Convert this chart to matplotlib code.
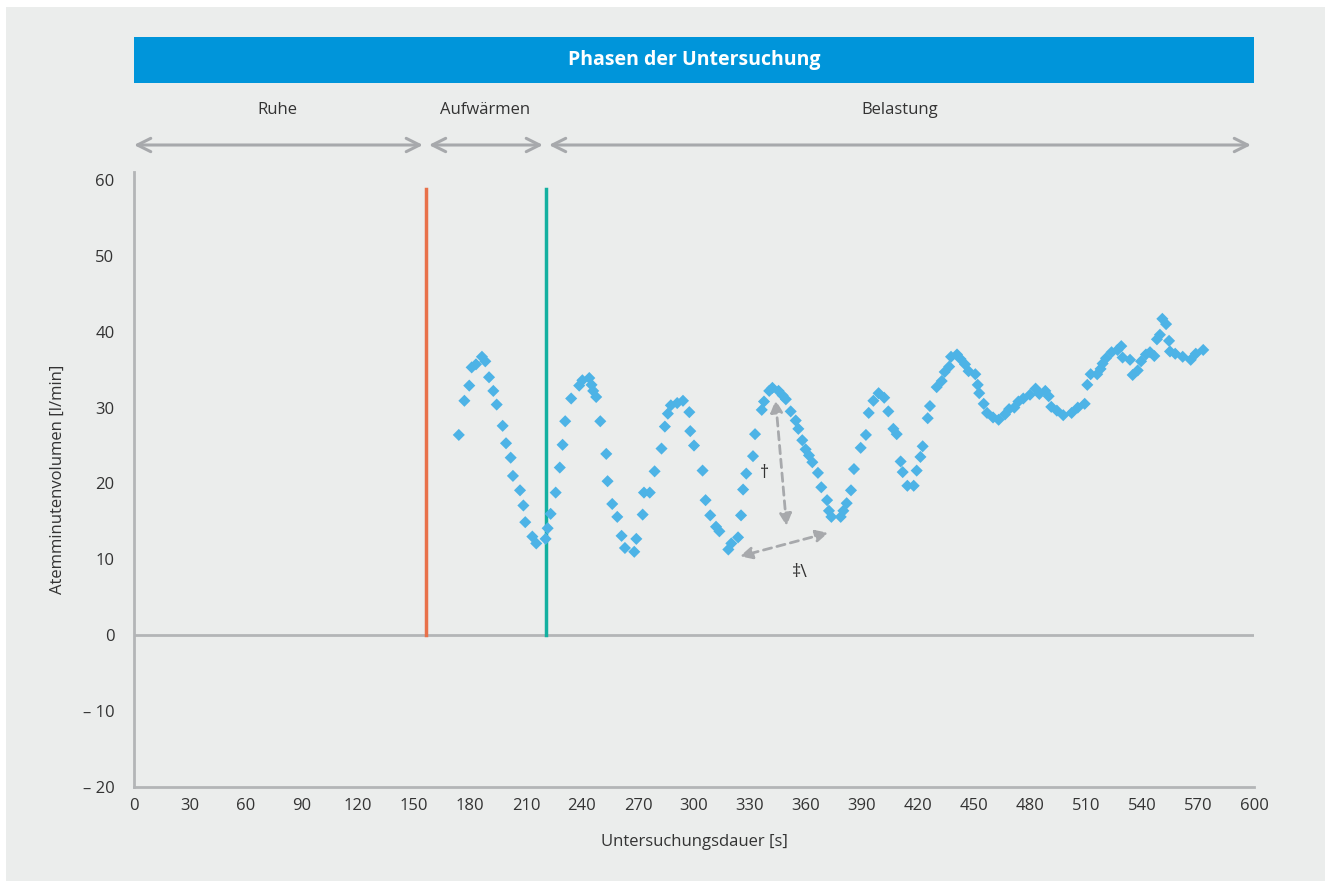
import matplotlib.pyplot as plt
from matplotlib.patches import Rectangle

plt.rcParams['font.family'] = ['Open Sans', 'DejaVu Sans']

# data
zeit = [174, 177, 179.6, 180.9, 183.2, 186.4, 188.2, 190.2, 192.5, 194.3,
        197.5, 199.3, 201.8, 203, 206.8, 208.6, 209.6, 213.4, 215.5, 220.5,
        221.6, 223.2, 225.9, 228.1, 229.6, 231, 234.2, 238.5, 240.2, 243.9,
        245.1, 246, 247.6, 249.8, 253, 253.7, 256.2, 258.9, 261.2, 263,
        268, 269.1, 272.5, 273.2, 276.3, 278.9, 282.6, 284.4, 286, 287.6,
        291, 294.1, 297.5, 298, 300, 304.6, 306.2, 308.7, 311.8, 313.6,
        318.4, 320, 323.6, 325.2, 326.3, 328, 331.6, 332.7, 336.3, 337.5,
        340.3, 342, 345.3, 347.5, 349.2, 351.8, 354.5, 355.9, 358, 359.8,
        361.6, 363.4, 366.4, 368.2, 371.3, 372.3, 373.6, 378.6, 380, 381.8,
        384.1, 385.7, 389.3, 392.1, 393.6, 396.1, 398.9, 401.9, 404.1, 406.8,
        408.6, 410.7, 411.8, 414.3, 417.7, 419.3, 421.3, 422.5, 425.2, 426.4,
        430, 432.7, 434.3, 436.7, 437.7, 440.9, 442.8, 445.2, 447.1, 450.7,
        452, 452.8, 455.2, 457, 460.2, 463.2, 466.6, 468.8, 471.6, 473.8,
        476.4, 480, 483, 485, 488.2, 490, 491.4, 494.4, 497.8, 502.3,
        505.6, 509.3, 510.7, 512.5, 516, 517.8, 518.9, 520.7, 523.7, 526.9,
        528.9, 529.6, 533.6, 535, 537.7, 539.5, 542.1, 544.3, 546.6, 548,
        549.6, 550.9, 552.9, 554.5, 555, 557.8, 561.8, 566.1, 568.8, 572.8]
atemminutenvolumen = [26.4, 30.9, 32.9, 35.3, 35.7, 36.7, 36.1, 34.0, 32.2, 30.4,
                      27.6, 25.3, 23.4, 21.0, 19.1, 17.1, 14.9, 13.0, 12.1, 12.7,
                      14.1, 16.0, 18.8, 22.1, 25.1, 28.2, 31.2, 32.9, 33.6, 33.9,
                      33.0, 32.2, 31.4, 28.2, 23.9, 20.3, 17.3, 15.6, 13.1, 11.5,
                      11.0, 12.7, 15.9, 18.8, 18.8, 21.6, 24.6, 27.5, 29.2, 30.3,
                      30.6, 30.9, 29.4, 26.9, 25.0, 21.7, 17.8, 15.8, 14.3, 13.7,
                      11.3, 12.1, 12.9, 15.8, 19.2, 21.3, 23.6, 26.5, 29.7, 30.8,
                      32.2, 32.6, 32.2, 31.6, 31.1, 29.5, 28.3, 27.2, 25.7, 24.5,
                      23.7, 22.8, 21.4, 19.5, 17.8, 16.4, 15.6, 15.6, 16.4, 17.4,
                      19.1, 21.9, 24.7, 26.4, 29.3, 30.9, 31.9, 31.3, 29.5, 27.2,
                      26.5, 22.9, 21.5, 19.7, 19.7, 21.7, 23.5, 24.9, 28.6, 30.2,
                      32.7, 33.5, 34.7, 35.4, 36.7, 37.0, 36.4, 35.7, 34.8, 34.4,
                      33.0, 31.9, 30.5, 29.3, 28.7, 28.4, 29.1, 29.8, 30.0, 30.8,
                      31.2, 31.7, 32.5, 31.8, 32.2, 31.5, 30.1, 29.6, 29.0, 29.3,
                      30.0, 30.5, 33.0, 34.4, 34.4, 35.1, 35.8, 36.5, 37.3, 37.6,
                      38.1, 36.6, 36.3, 34.3, 34.9, 36.1, 37.0, 37.3, 36.8, 39.0,
                      39.6, 41.7, 41.0, 38.8, 37.4, 37.1, 36.7, 36.3, 37.1, 37.6]

phasen = ['Ruhe', 'Aufwärmen', 'Belastung']
phasen_grenzen = [0, 156.4, 220.7, 600]
x_ticks = list(range(0, 601, 30))
y_ticks = [60, 50, 40, 30, 20, 10, 0, -10, -20]
y_tick_labels = ['60', '50', '40', '30', '20', '10', '0', '– 10', '– 20']

bg = '#EBEDEC'
grau = '#A7A9AC'
text_farbe = '#333333'

fig = plt.figure(figsize=(13.25, 8.81), dpi=100, facecolor='white')
fig.patches.append(Rectangle((6 / 1325, 0), 1, 1 - 7 / 881, transform=fig.transFigure,
                             facecolor=bg, edgecolor='none', zorder=-10))

ax = fig.add_axes([134 / 1325, 1 - 787 / 881, 1120 / 1325, 615 / 881])
ax.set_facecolor('none')
ax.set_xlim(0, 600)
ax.set_ylim(-20, 61.05)

for s in ['top', 'right']:
    ax.spines[s].set_visible(False)
for s in ['left', 'bottom']:
    ax.spines[s].set_color('#B3B5B7')
    ax.spines[s].set_linewidth(2)

ax.set_xticks(x_ticks)
ax.set_yticks(y_ticks)
ax.set_yticklabels(y_tick_labels)
ax.tick_params(length=0, labelsize=12, labelcolor=text_farbe, pad=8)
ax.tick_params(axis='y', pad=14)

ax.axhline(0, color='#B3B5B7', lw=2, zorder=1)

# Phasengrenzen
ax.plot([phasen_grenzen[1]] * 2, [0, 58.8], color='#E8714A', lw=2.5, zorder=2)
ax.plot([phasen_grenzen[2]] * 2, [0, 58.8], color='#13B0A0', lw=2.5, zorder=2)

ax.scatter(zeit, atemminutenvolumen, marker='D', s=38, color='#4DB3E6',
           edgecolors='none', zorder=3)

# gestrichelte Pfeile
pfeil = dict(arrowstyle='<|-|>', color=grau, lw=2, linestyle=(0, (3, 2)),
             mutation_scale=18, shrinkA=0, shrinkB=0)
ax.annotate('', xy=(343.7, 31.0), xytext=(349.6, 14.4), arrowprops=pfeil)
ax.annotate('', xy=(324.6, 10.4), xytext=(371.9, 13.5), arrowprops=pfeil)
ax.text(337.7, 21.4, '†', fontsize=13, color=text_farbe, ha='center', va='center')
ax.text(356.8, 8.4, '‡\\', fontsize=13, color=text_farbe, ha='center', va='center')

ax.set_xlabel('Untersuchungsdauer [s]', fontsize=12, color=text_farbe, labelpad=14)
ax.set_ylabel('Atemminutenvolumen [l/min]', fontsize=12, color=text_farbe, labelpad=12)

# Kopfbereich
tr = ax.get_xaxis_transform()
ax.add_patch(Rectangle((0, 1.1447), 600, 0.0748, transform=tr, facecolor='#0095DA',
                       edgecolor='none', clip_on=False))
ax.text(300, 1.182, 'Phasen der Untersuchung', transform=tr, ha='center', va='center',
        fontsize=14, fontweight='bold', color='white')

kopf_pfeil = dict(arrowstyle='<->', color=grau, lw=2.2, mutation_scale=24,
                  shrinkA=0, shrinkB=0)
luecke = [0, 1.6, 1.6]
for i, name in enumerate(phasen):
    x0 = phasen_grenzen[i] + luecke[i]
    x1 = phasen_grenzen[i + 1] - 1.6
    ax.annotate('', xy=(x0, 1.0439), xytext=(x1, 1.0439), xycoords=tr, textcoords=tr,
                arrowprops=kopf_pfeil, annotation_clip=False)
label_x = [77, 188, 410]
for name, lx in zip(phasen, label_x):
    ax.text(lx, 1.1, name, transform=tr, ha='center', va='center', fontsize=12,
            color=text_farbe)

fig.savefig('out.png', dpi=100, facecolor=fig.get_facecolor())
